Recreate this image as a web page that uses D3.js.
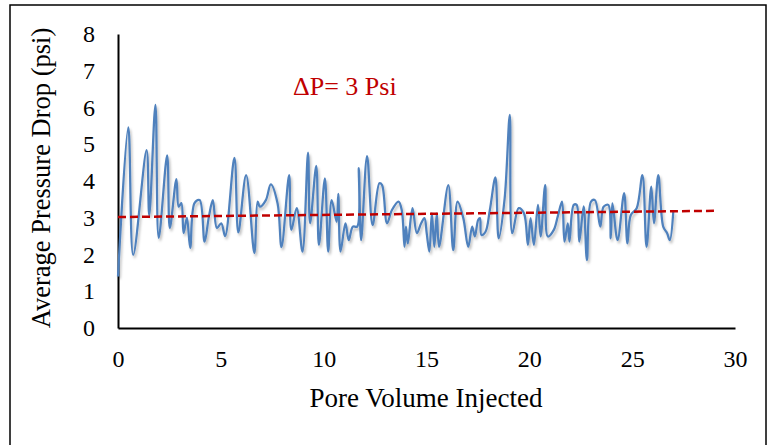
<!DOCTYPE html>
<html>
<head>
<meta charset="utf-8">
<script src="https://cdn.jsdelivr.net/npm/d3@7"></script>
<style>
  body { margin: 0; background: #fff; }
  text { font-family: "Liberation Serif", "Times New Roman", serif; }
</style>
</head>
<body>
<svg width="769" height="445"></svg>
<script>
// Pore volume injected (x) and average pressure drop in psi (y)
const pvInjected = [0, 0.5, 0.74, 1.39, 1.52, 1.82, 1.98, 2.39, 2.52, 2.84, 2.95, 3.08, 3.19, 3.35, 3.51,
  3.72, 3.97, 4.21, 4.42, 4.61, 4.81, 5.02, 5.21, 5.66, 5.85, 6.23, 6.63, 6.79, 6.9, 7.19, 7.43, 7.76,
  7.95, 8.32, 8.43, 8.69, 8.97, 9.24, 9.34, 9.64, 9.77, 10.06, 10.22, 10.39, 10.63, 10.71, 10.82, 11.06,
  11.22, 11.42, 11.63, 11.71, 11.82, 12.11, 12.38, 12.71, 12.84, 13.08, 13.32, 13.64, 13.8, 13.93, 14.0,
  14.09, 14.32, 14.53, 14.74, 14.9, 15.01, 15.14, 15.26, 15.38, 15.5, 15.61, 16.06, 16.3, 16.51, 16.79,
  17.03, 17.22, 17.35, 17.51, 17.6, 17.67, 17.87, 18.08, 18.35, 18.51, 18.8, 19.05, 19.17, 19.48, 19.74,
  19.93, 20.06, 20.22, 20.42, 20.55, 20.77, 20.9, 21.19, 21.38, 21.59, 21.71, 21.87, 21.95, 22.16, 22.3,
  22.43, 22.64, 22.8, 23.0, 23.19, 23.45, 23.61, 23.84, 23.96, 24.04, 24.29, 24.61, 24.77, 24.93, 25.22,
  25.5, 25.7, 25.93, 26.06, 26.27, 26.51, 26.7, 26.83, 27.0];
const pressureDrop = [1.4, 5.46, 1.99, 4.84, 3.07, 6.07, 2.45, 4.7, 2.72, 4.05, 3.3, 3.4, 2.58, 3.0, 2.18,
  3.4, 3.48, 2.35, 3.03, 3.48, 2.72, 2.85, 2.5, 4.63, 2.6, 4.16, 2.04, 3.44, 3.3, 3.48, 3.91, 3.39,
  2.2, 4.16, 2.67, 3.26, 2.08, 4.77, 2.85, 4.41, 2.26, 4.07, 2.08, 3.48, 2.89, 3.65, 2.08, 2.85,
  2.39, 2.76, 2.76, 4.35, 2.39, 4.68, 2.8, 3.94, 3.89, 2.85, 3.21, 3.44, 3.2, 2.21, 2.76,
  2.3, 3.26, 2.58, 2.85, 2.99, 2.58, 2.08, 3.12, 2.21, 3.12, 2.21, 3.89, 2.12, 3.44, 2.99,
  2.21, 2.76, 2.49, 2.94, 2.99, 2.53, 2.62, 3.21, 4.1, 2.44, 3.53, 5.8, 2.58, 3.26, 3.12,
  2.26, 2.99, 2.26, 3.35, 2.49, 3.89, 2.49, 2.67, 3.03, 3.44, 2.35, 2.85, 2.35, 3.35, 3.35,
  2.35, 3.31, 1.85, 3.44, 3.48, 2.76, 3.3, 3.35, 2.44, 3.39, 2.39, 3.67, 2.3, 3.07, 3.26,
  4.16, 2.21, 3.85, 2.85, 4.16, 2.76, 2.58, 2.39, 3.17];

// Linear trend line
const trendX = [0, 29.1];
const trendY = [3.02, 3.19];

// Axis ticks
const xTicks = [0, 5, 10, 15, 20, 25, 30];
const yTicks = [0, 1, 2, 3, 4, 5, 6, 7, 8];

const svg = d3.select("svg");

// Chart border
svg.append("rect")
  .attr("x", 10).attr("y", 5)
  .attr("width", 756).attr("height", 460)
  .attr("fill", "none").attr("stroke", "#000").attr("stroke-width", 1.5);

const x = d3.scaleLinear().domain([0, 30]).range([118, 735]);
const y = d3.scaleLinear().domain([0, 8]).range([328, 34]);

// soft shadow under the data line
const defs = svg.append("defs");
defs.append("filter").attr("id", "shadow")
  .attr("x", "-5%").attr("y", "-5%").attr("width", "110%").attr("height", "120%")
  .append("feDropShadow")
  .attr("dx", 1.5).attr("dy", 2.5).attr("stdDeviation", 1.2)
  .attr("flood-color", "#000").attr("flood-opacity", 0.25);

// x axis
svg.append("g")
  .attr("transform", `translate(0,${y(0)})`)
  .call(d3.axisBottom(x).tickValues(xTicks).tickSize(0).tickPadding(22))
  .call(g => g.select(".domain").attr("stroke", "#000").attr("stroke-width", 2))
  .call(g => g.selectAll("text").attr("font-size", 24).attr("font-family", "Liberation Serif").attr("fill", "#000"));

// y axis
svg.append("g")
  .attr("transform", `translate(${x(0)},0)`)
  .call(d3.axisLeft(y).tickValues(yTicks).tickSize(0).tickPadding(23))
  .call(g => g.select(".domain").attr("stroke", "#000").attr("stroke-width", 2))
  .call(g => g.selectAll("text").attr("font-size", 24).attr("font-family", "Liberation Serif").attr("fill", "#000"));

// data line
const pts = pvInjected.map((v, i) => [v, pressureDrop[i]]);
const line = d3.line()
  .x(d => x(d[0]))
  .y(d => y(d[1]))
  .curve(d3.curveCatmullRom.alpha(0.5));

svg.append("path")
  .datum(pts)
  .attr("d", line)
  .attr("fill", "none")
  .attr("stroke", "#4f81bd")
  .attr("stroke-width", 2.25)
  .attr("filter", "url(#shadow)");

// dashed trend line
svg.append("path")
  .datum(trendX.map((v, i) => [v, trendY[i]]))
  .attr("d", d3.line().x(d => x(d[0])).y(d => y(d[1])))
  .attr("stroke", "#c00000")
  .attr("stroke-width", 2.5)
  .attr("stroke-dasharray", "8,4")
  .attr("fill", "none");

// annotation
svg.append("text")
  .attr("x", 293).attr("y", 95)
  .attr("font-size", 26)
  .attr("fill", "#c00000")
  .text("\u0394P= 3 Psi");

// axis titles
svg.append("text")
  .attr("x", 426).attr("y", 407)
  .attr("text-anchor", "middle")
  .attr("font-size", 27)
  .text("Pore Volume Injected");

svg.append("text")
  .attr("transform", "translate(50,178) rotate(-90)")
  .attr("text-anchor", "middle")
  .attr("font-size", 26.5)
  .text("Average Pressure Drop (psi)");
</script>
</body>
</html>
